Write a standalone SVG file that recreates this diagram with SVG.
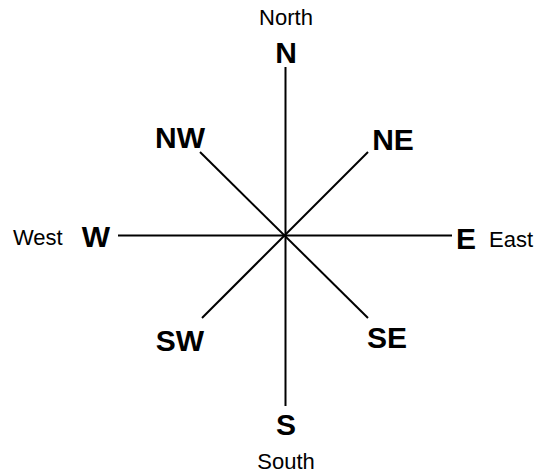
<svg xmlns="http://www.w3.org/2000/svg" width="539" height="474" viewBox="0 0 539 474">
<style>
.ln{stroke:#000;stroke-width:2;fill:none}
.big{font-family:"Liberation Sans",Arial,sans-serif;font-weight:bold;font-size:30px;fill:#000;text-anchor:middle}
.sm{font-family:"Liberation Sans",Arial,sans-serif;font-size:22px;fill:#000}
</style>
<rect width="539" height="474" fill="#fff"/>
<g id="connectors">
<line class="ln" x1="285.5" y1="67" x2="285.5" y2="406"/>
<line class="ln" x1="118" y1="235.5" x2="452" y2="235.5"/>
<line class="ln" x1="200" y1="152" x2="368" y2="318"/>
<line class="ln" x1="368" y1="152" x2="202" y2="318"/>
</g>
<g id="north"><text class="sm" x="286" y="25" text-anchor="middle">North</text><text class="big" x="286" y="63">N</text></g>
<g id="nw"><text class="big" x="180" y="148">NW</text></g>
<g id="ne"><text class="big" x="393" y="150">NE</text></g>
<g id="west"><text class="sm" x="13" y="245">West</text><text class="big" x="96" y="247">W</text></g>
<g id="east"><text class="big" x="466" y="249">E</text><text class="sm" x="489" y="247">East</text></g>
<g id="sw"><text class="big" x="180" y="351">SW</text></g>
<g id="se"><text class="big" x="387" y="348">SE</text></g>
<g id="south"><text class="big" x="286" y="435">S</text><text class="sm" x="286" y="469" text-anchor="middle">South</text></g>
</svg>
